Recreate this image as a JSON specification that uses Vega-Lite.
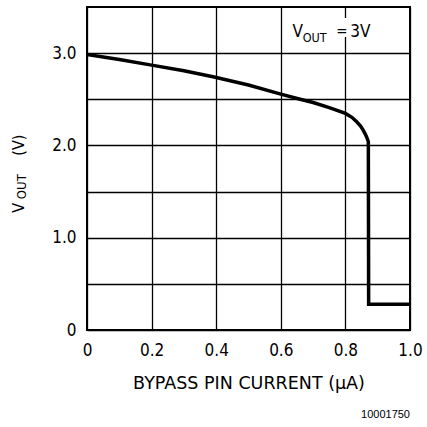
{
  "$schema": "https://vega.github.io/schema/vega-lite/v6.json",
  "width": 323,
  "height": 323,
  "autosize": {"type": "none"},
  "padding": {"left": 87, "top": 7, "right": 17, "bottom": 97},
  "background": "white",
  "config": {
    "view": {"stroke": "black", "strokeWidth": 2},
    "axis": {
      "grid": true,
      "gridColor": "black",
      "gridOpacity": 1,
      "gridWidth": 1.3,
      "domain": false,
      "ticks": false,
      "labelFont": "DejaVu Sans Condensed, Liberation Sans Narrow, DejaVu Sans",
      "labelFontSize": 17,
      "labelColor": "black",
      "labelFlush": false,
      "labelOverlap": false,
      "labelBound": false,
      "titleFont": "DejaVu Sans",
      "titleFontWeight": "normal",
      "titleColor": "black"
    }
  },
  "layer": [
    {
      "data": {
        "values": [
          {"i": 1, "current": 0.0, "vout": 2.985},
          {"i": 2, "current": 0.1, "vout": 2.93},
          {"i": 3, "current": 0.2, "vout": 2.87},
          {"i": 4, "current": 0.3, "vout": 2.81},
          {"i": 5, "current": 0.39, "vout": 2.744},
          {"i": 6, "current": 0.5, "vout": 2.655},
          {"i": 7, "current": 0.6, "vout": 2.556},
          {"i": 8, "current": 0.66, "vout": 2.5},
          {"i": 9, "current": 0.7, "vout": 2.465},
          {"i": 10, "current": 0.75, "vout": 2.41},
          {"i": 11, "current": 0.8, "vout": 2.347},
          {"i": 12, "current": 0.82, "vout": 2.305},
          {"i": 13, "current": 0.835, "vout": 2.256},
          {"i": 14, "current": 0.847, "vout": 2.21},
          {"i": 15, "current": 0.855, "vout": 2.166},
          {"i": 16, "current": 0.862, "vout": 2.12},
          {"i": 17, "current": 0.867, "vout": 2.08},
          {"i": 18, "current": 0.871, "vout": 2.04},
          {"i": 19, "current": 0.872, "vout": 0.28},
          {"i": 20, "current": 1.0, "vout": 0.28}
        ]
      },
      "mark": {"type": "line", "color": "black", "strokeWidth": 3.5, "strokeJoin": "miter", "clip": true},
      "encoding": {
        "x": {
          "field": "current", "type": "quantitative",
          "scale": {"domain": [0, 1], "nice": false, "zero": false},
          "axis": {
            "values": [0, 0.2, 0.4, 0.6, 0.8, 1.0],
            "labelExpr": "datum.value == 0 ? '0' : format(datum.value, '.1f')",
            "labelPadding": 12,
            "title": "BYPASS PIN CURRENT (μA)",
            "titleFontSize": 17.5,
            "titlePadding": 16
          }
        },
        "y": {
          "field": "vout", "type": "quantitative",
          "scale": {"domain": [0, 3.5], "nice": false, "zero": false},
          "axis": {
            "values": [0, 0.5, 1, 1.5, 2, 2.5, 3],
            "labelExpr": "datum.value == 0 ? '0' : (datum.value % 1 == 0 ? format(datum.value, '.1f') : '')",
            "labelPadding": 11,
            "title": null
          }
        },
        "order": {"field": "i", "type": "quantitative"}
      }
    },
    {
      "data": {"values": [{}]},
      "mark": {"type": "rect", "color": "white", "opacity": 1},
      "encoding": {
        "x": {"datum": 0.79, "type": "quantitative"},
        "x2": {"datum": 0.815},
        "y": {"datum": 3.175, "type": "quantitative"},
        "y2": {"datum": 3.381}
      }
    },
    {
      "data": {"values": [{}]},
      "mark": {"type": "text", "text": "V", "angle": 270, "align": "center", "baseline": "middle", "font": "DejaVu Sans Condensed, DejaVu Sans", "fontSize": 16, "color": "black"},
      "encoding": {"x": {"datum": -0.209, "type": "quantitative"}, "y": {"datum": 1.325, "type": "quantitative"}}
    },
    {
      "data": {"values": [{}]},
      "mark": {"type": "text", "text": "OUT", "angle": 270, "align": "center", "baseline": "middle", "font": "DejaVu Sans Condensed, DejaVu Sans", "fontSize": 13, "color": "black"},
      "encoding": {"x": {"datum": -0.2, "type": "quantitative"}, "y": {"datum": 1.553, "type": "quantitative"}}
    },
    {
      "data": {"values": [{}]},
      "mark": {"type": "text", "text": "(V)", "angle": 270, "align": "center", "baseline": "middle", "font": "DejaVu Sans Condensed, DejaVu Sans", "fontSize": 16, "color": "black"},
      "encoding": {"x": {"datum": -0.209, "type": "quantitative"}, "y": {"datum": 2.003, "type": "quantitative"}}
    },
    {
      "data": {"values": [{}]},
      "mark": {"type": "text", "text": "V", "align": "left", "baseline": "alphabetic", "font": "DejaVu Sans Condensed, DejaVu Sans", "fontSize": 17, "color": "black"},
      "encoding": {"x": {"datum": 0.636, "type": "quantitative"}, "y": {"datum": 3.178, "type": "quantitative"}}
    },
    {
      "data": {"values": [{}]},
      "mark": {"type": "text", "text": "OUT", "align": "left", "baseline": "alphabetic", "font": "DejaVu Sans Condensed, DejaVu Sans", "fontSize": 12.5, "color": "black"},
      "encoding": {"x": {"datum": 0.668, "type": "quantitative"}, "y": {"datum": 3.124, "type": "quantitative"}}
    },
    {
      "data": {"values": [{}]},
      "mark": {"type": "text", "text": "=", "align": "left", "baseline": "alphabetic", "font": "DejaVu Sans Condensed, DejaVu Sans", "fontSize": 15, "color": "black"},
      "encoding": {"x": {"datum": 0.772, "type": "quantitative"}, "y": {"datum": 3.19, "type": "quantitative"}}
    },
    {
      "data": {"values": [{}]},
      "mark": {"type": "text", "text": "3V", "align": "left", "baseline": "alphabetic", "font": "DejaVu Sans Condensed, DejaVu Sans", "fontSize": 17, "color": "black"},
      "encoding": {"x": {"datum": 0.815, "type": "quantitative"}, "y": {"datum": 3.178, "type": "quantitative"}}
    },
    {
      "data": {"values": [{}]},
      "mark": {"type": "text", "text": "10001750", "align": "right", "baseline": "alphabetic", "font": "Liberation Sans, Arial", "fontSize": 11, "color": "black"},
      "encoding": {"x": {"datum": 1.0, "type": "quantitative"}, "y": {"datum": -0.958, "type": "quantitative"}}
    }
  ]
}
